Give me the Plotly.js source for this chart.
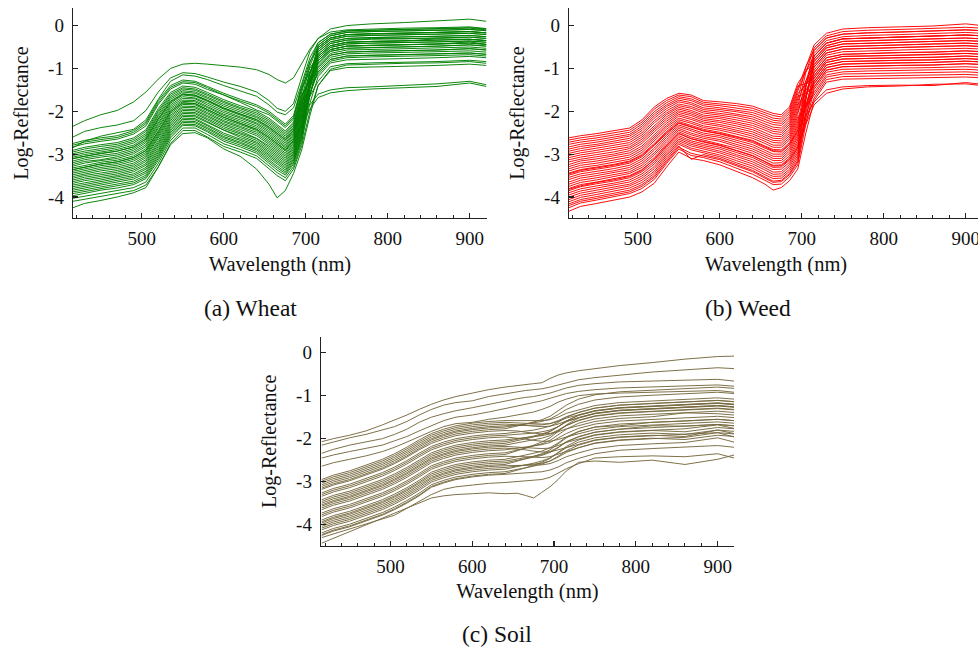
<!DOCTYPE html>
<html>
<head>
<meta charset="utf-8">
<script src="https://cdn.plot.ly/plotly-3.0.1.min.js"></script>
<style>
html,body{margin:0;padding:0;background:#fff;overflow:hidden;}
#chart{width:990px;height:651px;}
</style>
</head>
<body>
<div id="chart"></div>
<script>
// Wavelength sample points (nm)
const wavelengths = [416,430,450,470,490,505,520,535,550,565,580,600,620,640,655,665,675,685,695,705,715,730,750,780,820,860,900,920];

// Wheat log-reflectance spectra (one row per sample)
const wheatSpectra = [
 [-2.35,-2.22,-2.08,-1.98,-1.78,-1.55,-1.25,-1.00,-0.90,-0.88,-0.90,-0.93,-0.97,-1.03,-1.14,-1.26,-1.34,-1.22,-0.90,-0.55,-0.30,-0.08,0.00,0.04,0.07,0.11,0.15,0.10],
 [-2.60,-2.47,-2.38,-2.32,-2.22,-1.98,-1.55,-1.22,-1.10,-1.12,-1.20,-1.32,-1.42,-1.55,-1.75,-1.93,-2.00,-1.82,-1.20,-0.60,-0.30,-0.15,-0.10,-0.08,-0.06,-0.05,-0.03,-0.07],
 [-2.85,-2.70,-2.58,-2.50,-2.42,-2.20,-1.72,-1.30,-1.15,-1.18,-1.26,-1.40,-1.52,-1.65,-1.85,-2.02,-2.08,-1.92,-1.35,-0.75,-0.40,-0.20,-0.13,-0.11,-0.09,-0.08,-0.06,-0.10],
 [-4.25,-4.15,-4.08,-4.00,-3.90,-3.78,-3.30,-2.78,-2.52,-2.50,-2.62,-2.88,-3.05,-3.35,-3.70,-4.02,-3.85,-3.45,-2.90,-2.10,-1.40,-1.02,-0.92,-0.90,-0.88,-0.87,-0.84,-0.88],
 [-3.36,-3.30,-3.23,-3.18,-3.08,-2.92,-2.45,-2.01,-1.80,-1.82,-1.96,-2.14,-2.28,-2.42,-2.61,-2.76,-2.90,-2.68,-2.30,-1.95,-1.68,-1.57,-1.52,-1.48,-1.45,-1.42,-1.34,-1.42],
 [-3.10,-3.05,-2.98,-2.93,-2.83,-2.65,-2.18,-1.78,-1.60,-1.63,-1.75,-1.93,-2.07,-2.20,-2.38,-2.52,-2.66,-2.45,-2.10,-1.85,-1.60,-1.50,-1.45,-1.43,-1.40,-1.36,-1.30,-1.38],
 [-2.75,-2.68,-2.62,-2.57,-2.45,-2.25,-1.75,-1.40,-1.27,-1.30,-1.42,-1.58,-1.72,-1.85,-2.00,-2.15,-2.30,-2.10,-1.40,-0.84,-0.51,-0.29,-0.21,-0.19,-0.18,-0.16,-0.14,-0.17],
 [-2.79,-2.72,-2.66,-2.61,-2.49,-2.29,-1.80,-1.44,-1.31,-1.33,-1.45,-1.62,-1.76,-1.89,-2.04,-2.19,-2.34,-2.14,-1.44,-0.99,-0.72,-0.47,-0.39,-0.37,-0.36,-0.34,-0.32,-0.35],
 [-2.83,-2.76,-2.70,-2.65,-2.53,-2.34,-1.84,-1.48,-1.34,-1.37,-1.49,-1.62,-1.79,-1.97,-2.08,-2.23,-2.38,-2.18,-1.48,-1.07,-0.82,-0.56,-0.48,-0.46,-0.45,-0.43,-0.38,-0.44],
 [-2.91,-2.84,-2.78,-2.73,-2.62,-2.43,-1.94,-1.56,-1.41,-1.44,-1.56,-1.73,-1.87,-2.00,-2.16,-2.31,-2.46,-2.25,-1.57,-0.86,-0.40,-0.20,-0.12,-0.10,-0.09,-0.07,-0.05,-0.08],
 [-2.95,-2.88,-2.82,-2.77,-2.66,-2.47,-1.99,-1.60,-1.45,-1.48,-1.60,-1.77,-1.91,-2.04,-2.20,-2.35,-2.50,-2.29,-1.61,-1.28,-1.09,-0.79,-0.71,-0.69,-0.68,-0.66,-0.64,-0.67],
 [-2.99,-2.93,-2.87,-2.81,-2.70,-2.52,-2.03,-1.64,-1.48,-1.51,-1.63,-1.80,-1.94,-2.08,-2.24,-2.39,-2.54,-2.33,-1.65,-1.24,-0.98,-0.69,-0.62,-0.60,-0.59,-0.57,-0.54,-0.57],
 [-3.03,-2.97,-2.91,-2.85,-2.74,-2.56,-2.08,-1.68,-1.52,-1.55,-1.67,-1.84,-1.98,-2.12,-2.28,-2.43,-2.58,-2.37,-1.69,-0.94,-0.46,-0.24,-0.16,-0.14,-0.13,-0.11,-0.09,-0.12],
 [-3.07,-3.01,-2.95,-2.89,-2.79,-2.60,-2.12,-1.72,-1.55,-1.58,-1.70,-1.88,-2.02,-2.15,-2.32,-2.47,-2.62,-2.40,-1.74,-1.09,-0.67,-0.42,-0.34,-0.30,-0.31,-0.29,-0.27,-0.30],
 [-3.11,-3.05,-2.99,-2.93,-2.83,-2.64,-2.17,-1.76,-1.59,-1.62,-1.74,-1.92,-2.06,-2.19,-2.36,-2.51,-2.66,-2.44,-1.78,-1.23,-0.88,-0.60,-0.53,-0.51,-0.50,-0.48,-0.45,-0.48],
 [-3.16,-3.09,-3.03,-2.98,-2.87,-2.69,-2.22,-1.81,-1.62,-1.65,-1.77,-1.95,-2.09,-2.23,-2.41,-2.56,-2.70,-2.48,-1.82,-1.41,-1.14,-0.83,-0.75,-0.73,-0.72,-0.70,-0.68,-0.71],
 [-3.20,-3.13,-3.07,-3.02,-2.91,-2.73,-2.27,-1.85,-1.66,-1.69,-1.81,-1.99,-2.13,-2.27,-2.45,-2.60,-2.74,-2.52,-1.86,-1.11,-0.61,-0.38,-0.30,-0.28,-0.27,-0.25,-0.23,-0.26],
 [-3.24,-3.17,-3.13,-3.06,-2.95,-2.78,-2.31,-1.89,-1.70,-1.71,-1.85,-2.03,-2.16,-2.30,-2.49,-2.64,-2.78,-2.55,-1.90,-1.10,-0.56,-0.33,-0.25,-0.23,-0.22,-0.20,-0.18,-0.21],
 [-3.28,-3.21,-3.15,-3.10,-2.99,-2.82,-2.36,-1.93,-1.74,-1.75,-1.89,-2.07,-2.20,-2.34,-2.53,-2.68,-2.82,-2.59,-1.94,-1.37,-0.98,-0.69,-0.62,-0.60,-0.59,-0.57,-0.54,-0.57],
 [-3.32,-3.26,-3.19,-3.14,-3.04,-2.87,-2.40,-1.97,-1.77,-1.78,-1.92,-2.10,-2.24,-2.38,-2.57,-2.72,-2.85,-2.63,-1.99,-1.33,-0.88,-0.60,-0.53,-0.51,-0.50,-0.48,-0.45,-0.48],
 [-3.36,-3.30,-3.23,-3.18,-3.08,-2.91,-2.45,-2.01,-1.81,-1.82,-1.96,-2.14,-2.28,-2.42,-2.61,-2.76,-2.89,-2.67,-2.03,-1.13,-0.51,-0.29,-0.21,-0.19,-0.18,-0.16,-0.14,-0.17],
 [-3.40,-3.34,-3.27,-3.22,-3.12,-2.96,-2.49,-2.05,-1.84,-1.85,-1.99,-2.18,-2.31,-2.45,-2.65,-2.80,-2.93,-2.70,-2.07,-1.27,-0.72,-0.47,-0.39,-0.37,-0.36,-0.31,-0.32,-0.35],
 [-3.44,-3.38,-3.31,-3.26,-3.16,-3.00,-2.54,-2.09,-1.88,-1.89,-2.03,-2.22,-2.35,-2.49,-2.69,-2.84,-2.97,-2.74,-2.11,-1.35,-0.82,-0.56,-0.48,-0.46,-0.45,-0.43,-0.41,-0.44],
 [-3.48,-3.42,-3.35,-3.30,-3.21,-3.04,-2.59,-2.13,-1.91,-1.92,-2.06,-2.25,-2.38,-2.53,-2.73,-2.88,-3.01,-2.78,-2.16,-1.65,-1.30,-0.96,-0.89,-0.87,-0.86,-0.84,-0.81,-0.84],
 [-3.52,-3.46,-3.39,-3.34,-3.25,-3.08,-2.64,-2.17,-1.95,-1.96,-2.10,-2.29,-2.42,-2.57,-2.77,-2.92,-3.05,-2.82,-2.20,-1.29,-0.67,-0.42,-0.34,-0.32,-0.31,-0.29,-0.27,-0.30],
 [-3.56,-3.50,-3.44,-3.38,-3.29,-3.13,-2.68,-2.21,-1.98,-1.99,-2.13,-2.32,-2.46,-2.63,-2.81,-2.96,-3.09,-2.85,-2.24,-1.38,-0.77,-0.51,-0.43,-0.41,-0.40,-0.38,-0.36,-0.39],
 [-3.60,-3.54,-3.48,-3.42,-3.33,-3.17,-2.73,-2.25,-2.02,-2.03,-2.17,-2.36,-2.50,-2.64,-2.85,-3.00,-3.13,-2.89,-2.28,-1.58,-1.09,-0.79,-0.71,-0.69,-0.68,-0.66,-0.64,-0.67],
 [-3.64,-3.58,-3.52,-3.46,-3.37,-3.22,-2.77,-2.29,-2.05,-2.06,-2.20,-2.40,-2.53,-2.68,-2.89,-3.04,-3.17,-2.93,-2.32,-1.23,-0.46,-0.24,-0.16,-0.14,-0.13,-0.11,-0.09,-0.12],
 [-3.68,-3.62,-3.56,-3.50,-3.41,-3.26,-2.82,-2.33,-2.09,-2.10,-2.24,-2.44,-2.57,-2.72,-2.93,-3.08,-3.21,-2.97,-2.36,-1.31,-0.56,-0.33,-0.25,-0.23,-0.22,-0.20,-0.18,-0.21],
 [-3.72,-3.67,-3.60,-3.54,-3.46,-3.31,-2.87,-2.37,-2.12,-2.13,-2.27,-2.44,-2.61,-2.75,-2.97,-3.12,-3.25,-3.00,-2.41,-1.61,-1.03,-0.74,-0.66,-0.64,-0.63,-0.61,-0.59,-0.62],
 [-3.76,-3.71,-3.64,-3.58,-3.50,-3.35,-2.92,-2.41,-2.16,-2.17,-2.31,-2.51,-2.65,-2.79,-3.01,-3.16,-3.29,-3.04,-2.45,-1.47,-0.77,-0.51,-0.43,-0.41,-0.40,-0.38,-0.36,-0.39],
 [-3.80,-3.75,-3.68,-3.62,-3.54,-3.40,-2.96,-2.45,-2.19,-2.20,-2.34,-2.55,-2.68,-2.83,-3.05,-3.20,-3.33,-3.08,-2.49,-1.39,-0.61,-0.38,-0.30,-0.28,-0.27,-0.25,-0.23,-0.26],
 [-3.84,-3.79,-3.72,-3.66,-3.58,-3.44,-3.01,-2.49,-2.23,-2.24,-2.38,-2.59,-2.72,-2.87,-3.09,-3.24,-3.37,-3.12,-2.53,-1.48,-0.72,-0.47,-0.39,-0.37,-0.36,-0.34,-0.32,-0.35],
 [-3.88,-3.83,-3.76,-3.70,-3.63,-3.49,-3.05,-2.53,-2.26,-2.27,-2.41,-2.62,-2.75,-2.90,-3.13,-3.28,-3.41,-3.15,-2.58,-1.62,-0.93,-0.65,-0.57,-0.55,-0.54,-0.52,-0.50,-0.53],
 [-3.92,-3.87,-3.80,-3.74,-3.67,-3.53,-3.10,-2.57,-2.30,-2.31,-2.45,-2.66,-2.79,-2.94,-3.17,-3.32,-3.45,-3.19,-2.62,-1.39,-0.51,-0.29,-0.21,-0.19,-0.18,-0.16,-0.14,-0.17],
 [-3.97,-3.91,-3.84,-3.79,-3.71,-3.57,-3.15,-2.62,-2.33,-2.34,-2.48,-2.70,-2.83,-2.98,-3.22,-3.37,-3.49,-3.23,-2.66,-1.81,-1.19,-0.87,-0.80,-0.78,-0.77,-0.75,-0.72,-0.75],
 [-4.03,-3.98,-3.91,-3.85,-3.78,-3.65,-3.22,-2.68,-2.39,-2.39,-2.54,-2.76,-2.89,-3.04,-3.28,-3.43,-3.55,-3.29,-2.73,-1.63,-0.82,-0.56,-0.48,-0.46,-0.45,-0.43,-0.41,-0.44],
 [-4.10,-4.05,-3.98,-3.92,-3.85,-3.72,-3.30,-2.75,-2.45,-2.45,-2.60,-2.82,-2.95,-3.10,-3.35,-3.50,-3.62,-3.35,-2.80,-2.00,-1.40,-1.05,-0.98,-0.96,-0.95,-0.93,-0.90,-0.93]
];

// Weed log-reflectance spectra
const weedSpectra = [
 [-2.62,-2.57,-2.52,-2.46,-2.39,-2.20,-1.90,-1.70,-1.58,-1.62,-1.75,-1.78,-1.82,-1.88,-1.98,-2.05,-2.08,-1.90,-1.35,-1.07,-0.84,-0.52,-0.43,-0.41,-0.39,-0.37,-0.35,-0.37],
 [-2.67,-2.62,-2.57,-2.51,-2.44,-2.25,-1.95,-1.75,-1.62,-1.66,-1.79,-1.83,-1.87,-1.93,-2.03,-2.10,-2.13,-1.95,-1.41,-1.35,-1.23,-0.86,-0.78,-0.76,-0.75,-0.74,-0.71,-0.73],
 [-2.72,-2.67,-2.62,-2.56,-2.49,-2.30,-2.01,-1.80,-1.66,-1.71,-1.83,-1.87,-1.92,-1.98,-2.08,-2.16,-2.18,-2.00,-1.47,-0.95,-0.58,-0.29,-0.20,-0.17,-0.15,-0.13,-0.10,-0.12],
 [-2.77,-2.72,-2.67,-2.61,-2.54,-2.35,-2.06,-1.85,-1.70,-1.75,-1.87,-1.92,-1.97,-2.03,-2.13,-2.21,-2.23,-2.05,-1.53,-1.06,-0.71,-0.41,-0.31,-0.29,-0.27,-0.25,-0.22,-0.24],
 [-2.83,-2.77,-2.72,-2.65,-2.58,-2.40,-2.11,-1.89,-1.74,-1.80,-1.92,-1.96,-2.01,-2.08,-2.19,-2.26,-2.28,-2.11,-1.59,-1.38,-1.17,-0.81,-0.72,-0.71,-0.69,-0.68,-0.65,-0.67],
 [-2.88,-2.82,-2.77,-2.70,-2.63,-2.45,-2.16,-1.94,-1.78,-1.84,-1.96,-2.00,-2.06,-2.13,-2.24,-2.31,-2.33,-2.16,-1.65,-1.58,-1.43,-1.04,-0.96,-0.94,-0.93,-0.92,-0.89,-0.91],
 [-2.93,-2.87,-2.81,-2.75,-2.68,-2.50,-2.22,-1.99,-1.83,-1.89,-2.00,-2.05,-2.10,-2.18,-2.29,-2.37,-2.39,-2.21,-1.71,-0.97,-0.45,-0.18,-0.08,-0.05,-0.03,-0.01,0.04,0.00],
 [-2.98,-2.92,-2.86,-2.80,-2.73,-2.55,-2.27,-2.04,-1.87,-1.93,-2.04,-2.09,-2.15,-2.23,-2.34,-2.42,-2.44,-2.26,-1.77,-1.29,-0.91,-0.58,-0.49,-0.47,-0.45,-0.43,-0.41,-0.43],
 [-3.03,-2.97,-2.91,-2.85,-2.78,-2.60,-2.33,-2.08,-1.91,-1.98,-2.09,-2.13,-2.20,-2.28,-2.39,-2.47,-2.49,-2.31,-1.83,-1.61,-1.36,-0.98,-0.90,-0.88,-0.87,-0.86,-0.83,-0.85],
 [-3.08,-3.02,-2.96,-2.90,-2.83,-2.65,-2.38,-2.13,-1.95,-2.02,-2.13,-2.17,-2.25,-2.33,-2.44,-2.52,-2.54,-2.36,-1.89,-1.09,-0.52,-0.24,-0.14,-0.11,-0.09,-0.07,-0.04,-0.06],
 [-3.13,-3.07,-3.01,-2.95,-2.87,-2.70,-2.43,-2.18,-1.99,-2.06,-2.17,-2.22,-2.29,-2.38,-2.50,-2.58,-2.59,-2.42,-1.95,-1.41,-0.97,-0.64,-0.55,-0.53,-0.51,-0.49,-0.47,-0.49],
 [-3.18,-3.12,-3.06,-3.00,-2.92,-2.75,-2.48,-2.23,-2.03,-2.10,-2.21,-2.26,-2.34,-2.43,-2.55,-2.63,-2.64,-2.47,-2.01,-1.52,-1.10,-0.75,-0.67,-0.65,-0.63,-0.62,-0.59,-0.61],
 [-3.24,-3.16,-3.11,-3.04,-2.97,-2.81,-2.54,-2.28,-2.07,-2.15,-2.25,-2.31,-2.39,-2.48,-2.60,-2.68,-2.69,-2.52,-2.07,-1.29,-0.71,-0.41,-0.31,-0.29,-0.27,-0.25,-0.22,-0.24],
 [-3.29,-3.21,-3.16,-3.09,-3.02,-2.86,-2.59,-2.33,-2.11,-2.19,-2.29,-2.35,-2.44,-2.53,-2.65,-2.73,-2.74,-2.57,-2.13,-1.90,-1.62,-1.20,-1.13,-1.12,-1.11,-1.10,-1.08,-1.10],
 [-3.34,-3.26,-3.21,-3.14,-3.07,-2.91,-2.65,-2.37,-2.16,-2.24,-2.34,-2.40,-2.48,-2.58,-2.70,-2.79,-2.79,-2.62,-2.19,-1.89,-1.56,-1.15,-1.08,-1.06,-1.05,-1.04,-1.02,-1.04],
 [-3.39,-3.31,-3.26,-3.19,-3.12,-2.96,-2.70,-2.42,-2.20,-2.28,-2.38,-2.44,-2.53,-2.63,-2.75,-2.84,-2.84,-2.67,-2.25,-1.41,-0.78,-0.47,-0.37,-0.35,-0.33,-0.31,-0.29,-0.31],
 [-3.44,-3.36,-3.30,-3.24,-3.16,-3.01,-2.75,-2.47,-2.24,-2.33,-2.42,-2.49,-2.58,-2.68,-2.81,-2.89,-2.90,-2.73,-2.31,-1.64,-1.10,-0.75,-0.67,-0.65,-0.63,-0.62,-0.59,-0.61],
 [-3.49,-3.41,-3.35,-3.29,-3.21,-3.06,-2.80,-2.52,-2.28,-2.37,-2.46,-2.53,-2.63,-2.73,-2.86,-2.94,-2.95,-2.78,-2.37,-1.84,-1.36,-0.98,-0.90,-0.88,-0.87,-0.86,-0.83,-0.85],
 [-3.54,-3.46,-3.40,-3.34,-3.26,-3.11,-2.86,-2.56,-2.32,-2.42,-2.51,-2.57,-2.67,-2.78,-2.91,-3.00,-3.00,-2.83,-2.43,-1.40,-0.65,-0.35,-0.26,-0.23,-0.21,-0.19,-0.16,-0.18],
 [-3.59,-3.51,-3.45,-3.39,-3.31,-3.16,-2.91,-2.61,-2.36,-2.46,-2.55,-2.61,-2.72,-2.83,-2.96,-3.05,-3.05,-2.88,-2.49,-1.63,-0.97,-0.64,-0.55,-0.53,-0.51,-0.49,-0.47,-0.49],
 [-3.65,-3.56,-3.50,-3.43,-3.36,-3.21,-2.97,-2.66,-2.40,-2.51,-2.59,-2.66,-2.77,-2.88,-3.01,-3.10,-3.10,-2.93,-2.55,-1.87,-1.30,-0.92,-0.84,-0.82,-0.81,-0.80,-0.77,-0.79],
 [-3.70,-3.61,-3.55,-3.48,-3.41,-3.26,-3.02,-2.71,-2.44,-2.55,-2.63,-2.70,-2.82,-2.93,-3.06,-3.15,-3.15,-2.98,-2.61,-1.43,-0.58,-0.29,-0.20,-0.17,-0.15,-0.13,-0.10,-0.12],
 [-3.75,-3.66,-3.60,-3.53,-3.45,-3.31,-3.08,-2.76,-2.48,-2.60,-2.67,-2.75,-2.86,-2.98,-3.12,-3.21,-3.20,-3.04,-2.67,-1.67,-0.91,-0.58,-0.49,-0.47,-0.45,-0.43,-0.41,-0.43],
 [-3.80,-3.71,-3.65,-3.58,-3.50,-3.36,-3.13,-2.81,-2.52,-2.64,-2.71,-2.79,-2.91,-3.03,-3.17,-3.26,-3.25,-3.09,-2.73,-1.86,-1.17,-0.81,-0.72,-0.71,-0.69,-0.68,-0.65,-0.67],
 [-3.85,-3.76,-3.69,-3.63,-3.55,-3.41,-3.18,-2.85,-2.57,-2.69,-2.76,-2.84,-2.96,-3.08,-3.22,-3.31,-3.30,-3.14,-2.79,-2.22,-1.69,-1.26,-1.19,-1.18,-1.17,-1.16,-1.14,-1.16],
 [-3.90,-3.81,-3.74,-3.68,-3.60,-3.46,-3.23,-2.90,-2.61,-2.73,-2.80,-2.88,-3.01,-3.13,-3.27,-3.36,-3.35,-3.19,-2.85,-1.70,-0.84,-0.52,-0.43,-0.41,-0.39,-0.37,-0.35,-0.37],
 [-3.95,-3.86,-3.79,-3.72,-3.65,-3.51,-3.29,-2.95,-2.65,-2.77,-2.84,-2.93,-3.05,-3.18,-3.32,-3.42,-3.41,-3.24,-2.91,-1.69,-0.78,-0.47,-0.37,-0.35,-0.33,-0.31,-0.29,-0.31],
 [-4.00,-3.91,-3.84,-3.77,-3.70,-3.56,-3.34,-3.00,-2.69,-2.81,-2.88,-2.97,-3.10,-3.23,-3.37,-3.47,-3.46,-3.29,-2.97,-2.13,-1.43,-1.04,-0.96,-0.94,-0.93,-0.92,-0.89,-0.91],
 [-4.06,-3.96,-3.89,-3.82,-3.74,-3.61,-3.40,-3.04,-2.73,-2.86,-2.93,-3.02,-3.15,-3.28,-3.43,-3.52,-3.51,-3.35,-3.03,-2.03,-1.23,-0.86,-0.78,-0.76,-0.75,-0.74,-0.71,-0.73],
 [-4.11,-4.01,-3.94,-3.87,-3.79,-3.66,-3.45,-3.09,-2.77,-2.90,-2.97,-3.06,-3.20,-3.33,-3.48,-3.57,-3.56,-3.40,-3.09,-1.72,-0.71,-0.41,-0.31,-0.29,-0.27,-0.25,-0.22,-0.24],
 [-4.16,-4.06,-3.99,-3.92,-3.84,-3.71,-3.50,-3.14,-2.81,-3.12,-3.01,-3.10,-3.24,-3.38,-3.53,-3.63,-3.61,-3.45,-3.15,-1.95,-1.04,-0.69,-0.61,-0.59,-0.57,-0.55,-0.53,-0.55],
 [-4.20,-4.10,-4.03,-3.96,-3.88,-3.75,-3.54,-3.18,-2.84,-2.98,-3.04,-3.13,-3.27,-3.41,-3.56,-3.66,-3.64,-3.48,-3.19,-2.14,-1.30,-0.92,-0.84,-0.82,-0.81,-0.80,-0.77,-0.79],
 [-4.25,-4.14,-4.07,-4.00,-3.92,-3.80,-3.59,-3.22,-2.88,-3.03,-3.08,-3.18,-3.32,-3.47,-3.61,-3.71,-3.70,-3.53,-3.25,-2.29,-1.49,-1.09,-1.02,-1.00,-0.99,-0.98,-0.96,-0.98],
 [-4.33,-4.22,-4.15,-4.08,-4.00,-3.88,-3.68,-3.30,-2.95,-3.10,-3.15,-3.25,-3.40,-3.55,-3.70,-3.84,-3.78,-3.62,-3.35,-2.50,-1.75,-1.32,-1.25,-1.24,-1.23,-1.22,-1.20,-1.22],
 [-3.82,-3.74,-3.66,-3.60,-3.52,-3.38,-3.12,-2.80,-2.52,-2.64,-2.72,-2.80,-2.92,-3.04,-3.18,-3.28,-3.27,-3.12,-2.85,-2.30,-1.85,-1.58,-1.48,-1.43,-1.41,-1.37,-1.36,-1.40],
 [-3.46,-3.38,-3.32,-3.26,-3.18,-3.03,-2.78,-2.50,-2.27,-2.36,-2.45,-2.52,-2.60,-2.70,-2.83,-2.92,-2.93,-2.77,-2.45,-2.10,-1.78,-1.50,-1.43,-1.40,-1.39,-1.40,-1.33,-1.37]
];

// Soil log-reflectance spectra
const soilSpectra = [
 [-2.07,-2.00,-1.92,-1.82,-1.68,-1.57,-1.45,-1.32,-1.20,-1.10,-1.02,-0.94,-0.86,-0.80,-0.76,-0.74,-0.72,-0.70,-0.60,-0.52,-0.47,-0.42,-0.37,-0.30,-0.23,-0.15,-0.09,-0.08],
 [-2.15,-2.08,-1.98,-1.90,-1.80,-1.72,-1.60,-1.45,-1.32,-1.22,-1.16,-1.12,-1.02,-0.95,-0.90,-0.88,-0.86,-0.84,-0.80,-0.75,-0.70,-0.63,-0.58,-0.52,-0.45,-0.40,-0.35,-0.37],
 [-2.34,-2.25,-2.15,-2.08,-2.00,-1.90,-1.78,-1.62,-1.50,-1.42,-1.35,-1.28,-1.20,-1.12,-1.07,-1.04,-1.02,-0.98,-0.94,-0.88,-0.82,-0.76,-0.72,-0.68,-0.66,-0.64,-0.62,-0.66],
 [-2.45,-2.38,-2.30,-2.22,-2.15,-2.05,-1.95,-1.82,-1.70,-1.58,-1.50,-1.45,-1.38,-1.30,-1.24,-1.20,-1.17,-1.12,-1.06,-1.00,-0.95,-0.90,-0.86,-0.82,-0.80,-0.78,-0.75,-0.78],
 [-2.64,-2.56,-2.48,-2.40,-2.30,-2.20,-2.08,-1.95,-1.83,-1.72,-1.65,-1.62,-1.55,-1.50,-1.45,-1.42,-1.38,-1.32,-1.25,-1.15,-1.08,-1.00,-0.96,-0.94,-0.92,-0.90,-0.88,-0.92],
 [-4.43,-4.32,-4.15,-4.00,-3.85,-3.72,-3.60,-3.48,-3.38,-3.33,-3.30,-3.28,-3.26,-3.28,-3.27,-3.32,-3.38,-3.25,-3.12,-2.95,-2.75,-2.55,-2.52,-2.55,-2.50,-2.60,-2.48,-2.38],
 [-4.30,-4.22,-4.10,-3.98,-3.88,-3.78,-3.62,-3.45,-3.30,-3.18,-3.12,-3.08,-3.04,-3.02,-3.00,-2.98,-2.97,-2.95,-2.90,-2.80,-2.70,-2.58,-2.45,-2.42,-2.40,-2.42,-2.35,-2.45],
 [-2.95,-2.85,-2.75,-2.62,-2.48,-2.35,-2.20,-2.03,-1.88,-1.78,-1.70,-1.64,-1.60,-1.58,-1.58,-1.58,-1.59,-1.58,-1.56,-1.50,-1.41,-1.33,-1.23,-1.16,-1.12,-1.09,-1.05,-1.08],
 [-2.99,-2.89,-2.79,-2.66,-2.52,-2.39,-2.24,-2.07,-1.92,-1.82,-1.74,-1.68,-1.64,-1.62,-1.63,-1.64,-1.66,-1.66,-1.65,-1.60,-1.52,-1.45,-1.35,-1.28,-1.24,-1.21,-1.17,-1.20],
 [-3.03,-2.93,-2.83,-2.70,-2.56,-2.43,-2.28,-2.11,-1.96,-1.86,-1.78,-1.72,-1.68,-1.66,-1.67,-1.69,-1.71,-1.72,-1.71,-1.66,-1.59,-1.51,-1.41,-1.34,-1.30,-1.27,-1.23,-1.26],
 [-3.07,-2.97,-2.87,-2.74,-2.60,-2.47,-2.32,-2.15,-2.00,-1.90,-1.82,-1.76,-1.72,-1.70,-1.69,-1.69,-1.69,-1.68,-1.65,-1.58,-1.49,-1.39,-1.29,-1.22,-1.18,-1.15,-1.11,-1.14],
 [-3.11,-3.01,-2.91,-2.78,-2.64,-2.51,-2.36,-2.19,-2.03,-1.93,-1.85,-1.79,-1.75,-1.73,-1.69,-1.66,-1.63,-1.60,-1.54,-1.44,-1.32,-1.20,-1.10,-1.03,-0.99,-0.96,-0.92,-0.95],
 [-3.15,-3.05,-2.95,-2.82,-2.68,-2.55,-2.40,-2.23,-2.07,-1.97,-1.89,-1.83,-1.79,-1.77,-1.71,-1.66,-1.61,-1.56,-1.48,-1.36,-1.22,-1.08,-0.98,-0.91,-0.87,-0.84,-0.80,-0.83],
 [-3.18,-3.08,-2.98,-2.85,-2.71,-2.58,-2.43,-2.26,-2.11,-2.01,-1.93,-1.87,-1.83,-1.81,-1.82,-1.85,-1.87,-1.89,-1.88,-1.84,-1.77,-1.70,-1.60,-1.53,-1.49,-1.40,-1.42,-1.45],
 [-3.26,-3.16,-3.06,-2.93,-2.79,-2.66,-2.51,-2.34,-2.18,-2.08,-2.00,-1.94,-1.90,-1.88,-1.85,-1.82,-1.80,-1.76,-1.71,-1.62,-1.50,-1.39,-1.29,-1.22,-1.18,-1.15,-1.11,-1.14],
 [-3.30,-3.20,-3.10,-2.97,-2.83,-2.70,-2.55,-2.38,-2.22,-2.12,-2.04,-1.98,-1.94,-1.92,-1.90,-1.88,-1.87,-1.84,-1.80,-1.72,-1.61,-1.51,-1.41,-1.34,-1.30,-1.27,-1.23,-1.26],
 [-3.34,-3.24,-3.14,-3.01,-2.87,-2.74,-2.59,-2.42,-2.26,-2.16,-2.08,-2.02,-1.98,-1.96,-1.98,-2.01,-2.04,-2.06,-2.06,-2.02,-1.96,-1.89,-1.79,-1.72,-1.68,-1.65,-1.61,-1.64],
 [-3.42,-3.32,-3.22,-3.09,-2.95,-2.82,-2.67,-2.50,-2.33,-2.23,-2.15,-2.09,-2.05,-2.03,-2.00,-1.98,-1.96,-1.93,-1.89,-1.80,-1.69,-1.58,-1.48,-1.41,-1.37,-1.34,-1.30,-1.33],
 [-3.46,-3.36,-3.26,-3.13,-2.99,-2.86,-2.71,-2.54,-2.37,-2.27,-2.19,-2.13,-2.09,-2.07,-2.02,-1.98,-1.94,-1.89,-1.83,-1.72,-1.59,-1.46,-1.36,-1.29,-1.25,-1.22,-1.18,-1.21],
 [-3.50,-3.40,-3.30,-3.17,-3.03,-2.90,-2.75,-2.58,-2.41,-2.31,-2.23,-2.17,-2.13,-2.11,-2.05,-2.01,-1.96,-1.91,-1.84,-1.72,-1.59,-1.45,-1.35,-1.28,-1.24,-1.21,-1.17,-1.20],
 [-3.54,-3.44,-3.34,-3.21,-3.07,-2.94,-2.79,-2.62,-2.45,-2.35,-2.27,-2.21,-2.17,-2.15,-2.10,-2.07,-2.03,-1.99,-1.93,-1.82,-1.70,-1.57,-1.47,-1.40,-1.36,-1.33,-1.29,-1.32],
 [-3.57,-3.47,-3.37,-3.24,-3.10,-2.97,-2.82,-2.65,-2.48,-2.38,-2.30,-2.24,-2.20,-2.18,-2.19,-2.20,-2.22,-2.23,-2.22,-2.16,-2.09,-2.01,-1.91,-1.84,-1.80,-1.77,-1.68,-1.76],
 [-3.61,-3.51,-3.41,-3.28,-3.14,-3.01,-2.86,-2.69,-2.52,-2.42,-2.34,-2.28,-2.24,-2.22,-2.24,-2.26,-2.29,-2.31,-2.31,-2.26,-2.20,-2.13,-2.03,-1.96,-1.92,-1.95,-1.80,-1.88],
 [-3.65,-3.55,-3.45,-3.32,-3.18,-3.05,-2.90,-2.73,-2.56,-2.46,-2.38,-2.32,-2.28,-2.26,-2.22,-2.20,-2.17,-2.14,-2.09,-1.99,-1.88,-1.76,-1.66,-1.59,-1.55,-1.52,-1.48,-1.51],
 [-3.73,-3.63,-3.53,-3.40,-3.26,-3.13,-2.98,-2.81,-2.63,-2.53,-2.45,-2.39,-2.35,-2.33,-2.27,-2.22,-2.17,-2.12,-2.04,-1.92,-1.78,-1.64,-1.54,-1.47,-1.43,-1.40,-1.36,-1.39],
 [-3.77,-3.67,-3.57,-3.44,-3.30,-3.17,-3.02,-2.85,-2.67,-2.57,-2.49,-2.43,-2.39,-2.37,-2.29,-2.22,-2.15,-2.08,-1.98,-1.84,-1.68,-1.52,-1.42,-1.35,-1.31,-1.28,-1.24,-1.27],
 [-3.81,-3.71,-3.61,-3.48,-3.34,-3.21,-3.06,-2.89,-2.71,-2.61,-2.53,-2.47,-2.43,-2.41,-2.41,-2.42,-2.43,-2.44,-2.42,-2.36,-2.29,-2.21,-2.10,-2.03,-1.99,-2.02,-1.92,-1.95],
 [-3.89,-3.79,-3.69,-3.56,-3.42,-3.29,-3.14,-2.97,-2.78,-2.68,-2.60,-2.54,-2.50,-2.48,-2.43,-2.38,-2.34,-2.29,-2.21,-2.10,-1.96,-1.83,-1.73,-1.66,-1.62,-1.59,-1.55,-1.58],
 [-3.93,-3.83,-3.73,-3.60,-3.46,-3.33,-3.18,-3.01,-2.82,-2.72,-2.64,-2.58,-2.54,-2.52,-2.48,-2.44,-2.41,-2.37,-2.30,-2.20,-2.07,-1.95,-1.85,-1.78,-1.70,-1.71,-1.67,-1.70],
 [-3.96,-3.86,-3.76,-3.63,-3.49,-3.36,-3.21,-3.04,-2.86,-2.76,-2.68,-2.62,-2.58,-2.56,-2.51,-2.47,-2.43,-2.39,-2.32,-2.21,-2.08,-1.96,-1.85,-1.78,-1.74,-1.71,-1.67,-1.70],
 [-4.00,-3.90,-3.80,-3.67,-3.53,-3.40,-3.25,-3.08,-2.90,-2.80,-2.72,-2.66,-2.62,-2.60,-2.53,-2.47,-2.41,-2.35,-2.26,-2.13,-1.98,-1.84,-1.73,-1.70,-1.62,-1.59,-1.55,-1.58],
 [-4.04,-3.94,-3.84,-3.71,-3.57,-3.44,-3.29,-3.12,-2.93,-2.83,-2.75,-2.69,-2.65,-2.63,-2.62,-2.62,-2.62,-2.61,-2.58,-2.51,-2.42,-2.33,-2.23,-2.16,-2.12,-2.09,-1.98,-2.08],
 [-4.08,-3.98,-3.88,-3.75,-3.61,-3.48,-3.33,-3.16,-2.97,-2.87,-2.79,-2.73,-2.69,-2.67,-2.64,-2.62,-2.60,-2.57,-2.52,-2.43,-2.32,-2.21,-2.11,-2.04,-2.00,-1.97,-1.86,-1.96],
 [-4.12,-4.02,-3.92,-3.79,-3.65,-3.52,-3.37,-3.20,-3.01,-2.91,-2.83,-2.77,-2.73,-2.71,-2.66,-2.61,-2.57,-2.52,-2.45,-2.34,-2.21,-2.08,-1.98,-1.91,-1.87,-1.90,-1.80,-1.83],
 [-4.19,-4.09,-3.99,-3.86,-3.72,-3.59,-3.44,-3.27,-3.07,-2.97,-2.89,-2.83,-2.79,-2.77,-2.72,-2.68,-2.64,-2.59,-2.52,-2.41,-2.28,-2.15,-2.04,-1.97,-1.93,-1.90,-1.86,-1.89],
 [-4.23,-4.13,-4.03,-3.90,-3.76,-3.63,-3.48,-3.31,-3.11,-3.01,-2.93,-2.87,-2.83,-2.81,-2.74,-2.68,-2.62,-2.55,-2.46,-2.33,-2.18,-2.03,-1.92,-1.85,-1.81,-1.84,-1.74,-1.77],
 [-4.25,-4.15,-4.05,-3.92,-3.78,-3.65,-3.50,-3.33,-3.13,-3.03,-2.95,-2.89,-2.85,-2.83,-2.81,-2.80,-2.79,-2.77,-2.73,-2.66,-2.56,-2.46,-2.35,-2.27,-2.23,-2.20,-2.16,-2.20]
];

const yTickVals = [0,-1,-2,-3,-4];
const yTickText = ['0','-1','-2','-3','-4'];
const captions = ['(a) Wheat','(b) Weed','(c) Soil'];

const panelColors = ['#008000','#ff0000','#77693f'];
const panelData = [wheatSpectra, weedSpectra, soilSpectra];
const axisIds = [['x','y'],['x2','y2'],['x3','y3']];

const traces = [];
panelData.forEach((rows, p) => {
  rows.forEach(r => {
    traces.push({
      type:'scatter', mode:'lines', x: wavelengths, y: r,
      xaxis: axisIds[p][0], yaxis: axisIds[p][1],
      line:{color: panelColors[p], width:0.95},
      hoverinfo:'skip', showlegend:false
    });
  });
});

const FONT = "'Liberation Serif', 'Times New Roman', serif";
const PW = 990, PH = 651;
function xAxis(l, r, range) {
  return {
    domain:[l/PW, r/PW], range: range,
    showline:true, linecolor:'#222', linewidth:1.3, mirror:false,
    showgrid:false, zeroline:false,
    ticks:'inside', ticklen:5, tickwidth:1.2, tickcolor:'#222',
    tickmode:'linear', tick0:0, dtick:100,
    minor:{ticks:'inside', ticklen:3, tickwidth:1, tickcolor:'#222', tickmode:'linear', tick0:0, dtick:20, showgrid:false},
    tickfont:{family:FONT, size:19, color:'#111'},
    ticklabelstandoff:3,
    title:{text:'Wavelength (nm)', font:{family:FONT, size:20.5, color:'#111'}, standoff:8},
    fixedrange:true
  };
}
function yAxis(b, t, range, anchor) {
  return {
    domain:[(PH-b)/PH, (PH-t)/PH], range: range, anchor: anchor,
    showline:true, linecolor:'#222', linewidth:1.3,
    showgrid:false, zeroline:false,
    ticks:'inside', ticklen:5, tickwidth:1.2, tickcolor:'#222',
    tickmode:'array', tickvals:yTickVals, ticktext:yTickText,
    tickfont:{family:FONT, size:19, color:'#111'},
    ticklabelstandoff:4,
    title:{text:'Log-Reflectance', font:{family:FONT, size:20, color:'#111'}, standoff:14},
    fixedrange:true
  };
}

const layout = {
  width: PW, height: PH,
  font:{family:FONT, size:19, color:'#111'},
  margin:{l:0,r:0,t:0,b:0}, paper_bgcolor:'#fff', plot_bgcolor:'#fff',
  showlegend:false,
  xaxis: Object.assign(xAxis(73, 487, [416, 921]), {anchor:'y'}),
  yaxis: yAxis(218, 8, [-4.49, 0.41], 'x'),
  xaxis2: Object.assign(xAxis(569, 983, [416, 921]), {anchor:'y2'}),
  yaxis2: yAxis(218, 8, [-4.49, 0.41], 'x2'),
  xaxis3: Object.assign(xAxis(321, 734, [415, 920]), {anchor:'y3'}),
  yaxis3: yAxis(545.7, 337, [-4.49, 0.365], 'x3'),
  annotations: [
    {text:captions[0], x:250/PW, y:1-308/PH, xref:'paper', yref:'paper', showarrow:false, xanchor:'center', yanchor:'middle', font:{family:FONT, size:23.5, color:'#111'}},
    {text:captions[1], x:748/PW, y:1-308/PH, xref:'paper', yref:'paper', showarrow:false, xanchor:'center', yanchor:'middle', font:{family:FONT, size:23.5, color:'#111'}},
    {text:captions[2], x:497/PW, y:1-634/PH, xref:'paper', yref:'paper', showarrow:false, xanchor:'center', yanchor:'middle', font:{family:FONT, size:23.5, color:'#111'}}
  ]
};

Plotly.newPlot('chart', traces, layout, {staticPlot:true, displayModeBar:false});
</script>
</body>
</html>
